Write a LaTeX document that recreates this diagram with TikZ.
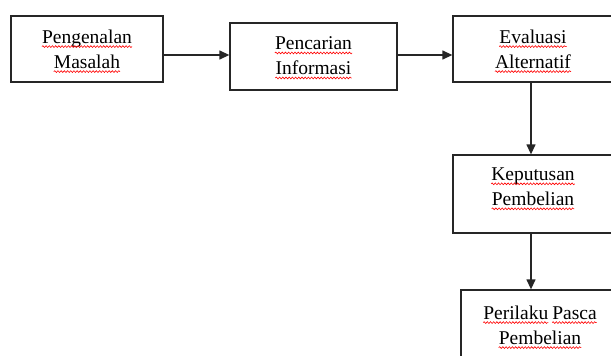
\documentclass[tikz,border=0pt]{standalone}
\usepackage{fontspec}
\setmainfont{Liberation Serif}
\usetikzlibrary{arrows.meta,decorations.pathmorphing}
\newcommand\rw[1]{\tikz[baseline=(w.base),x=1pt,y=1pt]{\node[inner sep=0pt,anchor=base] (w) {#1};\draw[red,line width=0.6pt,decorate,decoration={snake,amplitude=0.9pt,segment length=3.2pt}] ([yshift=-3.5pt]w.base west) -- ([yshift=-3.5pt]w.base east);}}
\tikzset{
  box/.style={draw=black!85, line width=1.3pt, rectangle, inner sep=0pt},
  txt/.style={anchor=north, align=center, inner sep=0pt, font=\fontsize{19.5}{25}\selectfont},
  arr/.style={draw=black!85, line width=1.3pt, -{Triangle[length=10pt,width=9pt]}}
}
\begin{document}
\begin{tikzpicture}[x=1pt,y=-1pt]
\useasboundingbox (0,0) rectangle (611,356);
\clip (0,0) rectangle (611,356);
\fill[white] (0,0) rectangle (611,356);
\node[box, minimum width=152pt, minimum height=66pt] (a) at (87,49) {};
\node[box, minimum width=167pt, minimum height=67pt] (b) at (313.5,56.5) {};
\node[box, minimum width=160pt, minimum height=66pt] (c) at (533,49) {};
\node[box, minimum width=160pt, minimum height=78pt] (d) at (533,194) {};
\node[box, minimum width=158pt, minimum height=80pt] (e) at (540,330) {};
\node[txt] (ta) at ([yshift=-14pt]a.north) {\rw{Pengenalan}\\\rw{Masalah}};
\node[txt] (tb) at ([yshift=-14pt]b.north) {\rw{Pencarian}\\\rw{Informasi}};
\node[txt] (tc) at ([yshift=-14pt]c.north) {\rw{Evaluasi}\\\rw{Alternatif}};
\node[txt] (td) at ([yshift=-13pt]d.north) {\rw{Keputusan}\\\rw{Pembelian}};
\node[txt] (te) at ([yshift=-16pt]e.north) {\rw{Perilaku}\hspace{3pt}\rw{Pasca}\\\rw{Pembelian}};
\draw[arr] (a.east |- 0,55) -- (b.west |- 0,55);
\draw[arr] (b.east |- 0,55) -- (c.west |- 0,55);
\draw[arr] (c.south -| 531,0) -- (d.north -| 531,0);
\draw[arr] (d.south -| 531,0) -- (e.north -| 531,0);
\end{tikzpicture}
\end{document}
